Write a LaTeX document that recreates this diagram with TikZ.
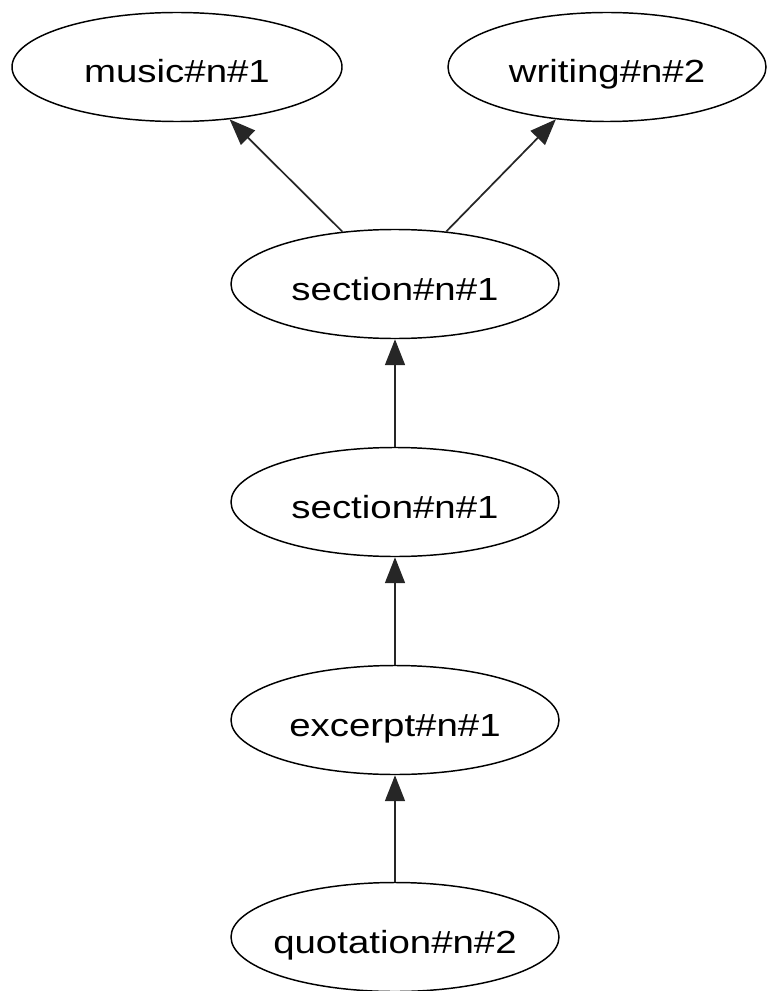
\documentclass[tikz,border=0pt]{standalone}
\usepackage{fontspec}
\setmainfont{Liberation Sans}
\usetikzlibrary{arrows.meta,shapes.geometric}
\newcommand{\lbl}[1]{\makebox[0pt]{\scalebox{1.2}[1]{#1}}}
\tikzset{
  term/.style={draw=black, line width=1.1pt, ellipse, inner sep=0pt,
    minimum height=81.75pt, text height=24pt, text depth=0pt,
    font=\fontsize{24}{28}\selectfont},
  edge/.style={draw=black!85, line width=1.3pt,
    -{Triangle[length=19.5pt,width=15pt]}}
}
\begin{document}
\begin{tikzpicture}[x=0.75pt,y=-0.75pt]
  \useasboundingbox (0,0) rectangle (767,991);
  \node[term, minimum width=247.5pt] (music)   at (177,67)  {\lbl{music\#n\#1}};
  \node[term, minimum width=238.5pt] (writing) at (607,67)  {\lbl{writing\#n\#2}};
  \node[term, minimum width=246pt]   (sec1)    at (395,284) {\lbl{section\#n\#1}};
  \node[term, minimum width=246pt]   (sec2)    at (395,502) {\lbl{section\#n\#1}};
  \node[term, minimum width=246pt]   (exc)     at (395,720) {\lbl{excerpt\#n\#1}};
  \node[term, minimum width=246pt]   (quot)    at (395,937) {\lbl{quotation\#n\#2}};
  \draw[edge] (sec1) -- (music);
  \draw[edge] (sec1) -- (writing);
  \draw[edge] (sec2) -- (sec1);
  \draw[edge] (exc)  -- (sec2);
  \draw[edge] (quot) -- (exc);
\end{tikzpicture}
\end{document}
